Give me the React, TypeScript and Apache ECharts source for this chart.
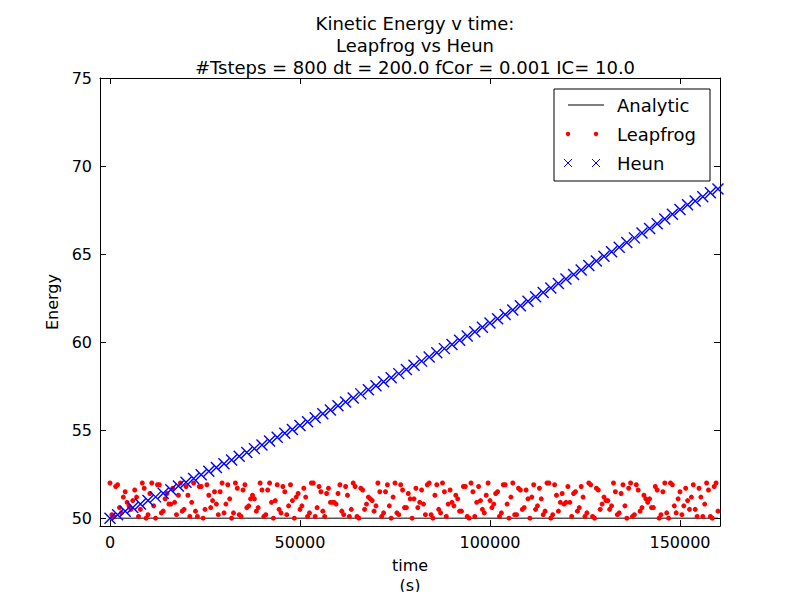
import React, { useEffect, useRef } from 'react';
import * as echarts from 'echarts';

const titleLines = ['Kinetic Energy v time:', 'Leapfrog vs Heun', '#Tsteps = 800 dt = 200.0 fCor = 0.001 IC= 10.0'];
const xTicks = [0, 50000, 100000, 150000];
const yTicks = [50, 55, 60, 65, 70, 75];

// Heun, sampled every 2000 s
const heunStep = 2000;
const heun = [
  50.00, 50.20, 50.40, 50.60, 50.80, 51.01, 51.21, 51.42, 51.62, 51.83,
  52.04, 52.25, 52.46, 52.67, 52.88, 53.09, 53.30, 53.52, 53.73, 53.95,
  54.16, 54.38, 54.60, 54.82, 55.04, 55.26, 55.48, 55.70, 55.93, 56.15,
  56.38, 56.60, 56.83, 57.06, 57.29, 57.52, 57.75, 57.98, 58.21, 58.45,
  58.68, 58.92, 59.15, 59.39, 59.63, 59.87, 60.11, 60.35, 60.59, 60.84,
  61.08, 61.33, 61.57, 61.82, 62.07, 62.32, 62.57, 62.82, 63.07, 63.33,
  63.58, 63.84, 64.09, 64.35, 64.61, 64.87, 65.13, 65.39, 65.66, 65.92,
  66.19, 66.45, 66.72, 66.99, 67.26, 67.53, 67.80, 68.02, 68.25, 68.48,
  68.70,
];

// Leapfrog, sampled every 1000 s (A) and at the half steps in between (B)
const leapStep = 1000;
const leapfrogA = [
  52.0, 50.1, 51.9, 50.3, 51.5, 50.7, 51.0, 51.2, 50.5, 51.7, 50.2, 52.0, 50.0, 51.9, 50.4, 51.4, 50.8, 50.9, 51.3, 50.4,
  51.8, 50.1, 52.0, 50.1, 51.8, 50.5, 51.3, 51.0, 50.8, 51.5, 50.3, 51.9, 50.0, 52.0, 50.2, 51.6, 50.6, 51.1, 51.1, 50.6,
  51.6, 50.2, 52.0, 50.0, 51.9, 50.3, 51.5, 50.7, 51.0, 51.2, 50.5, 51.7, 50.1, 52.0, 50.1, 51.8, 50.4, 51.4, 50.9, 50.9,
  51.4, 50.4, 51.8, 50.1, 52.0, 50.1, 51.7, 50.5, 51.2, 51.0, 50.7, 51.5, 50.3, 51.9, 50.0, 52.0, 50.2, 51.6, 50.6, 51.1,
  51.1, 50.6, 51.6, 50.2, 52.0, 50.0, 51.9, 50.3, 51.5, 50.8, 50.9, 51.3, 50.4, 51.8, 50.1, 52.0, 50.1, 51.8, 50.5, 51.3,
  51.0, 50.8, 51.5, 50.3, 51.9, 50.0, 52.0, 50.2, 51.6, 50.6, 51.1, 51.2, 50.5, 51.7, 50.2, 52.0, 50.0, 51.9, 50.4, 51.4,
  50.9, 50.9, 51.4, 50.4, 51.8, 50.1, 52.0, 50.1, 51.7, 50.5, 51.2, 51.0, 50.7, 51.5, 50.3, 51.9, 50.0, 52.0, 50.2, 51.6,
  50.6, 51.1, 51.1, 50.6, 51.6, 50.2, 52.0, 50.0, 51.9, 50.3, 51.5, 50.7, 51.0, 51.2, 50.5, 51.7, 50.1, 52.0, 50.1, 51.8,
  50.4,
];
const leapfrogB = [
  50.2, 51.8, 50.6, 51.2, 50.9, 50.5, 51.6, 50.1, 52.0, 50.0, 51.4, 50.7, 51.9, 50.3, 51.1, 50.8, 51.7, 50.2, 52.0, 50.5,
  51.3, 50.9, 50.4, 51.8, 50.0, 51.9, 50.6, 51.5, 50.2, 52.0, 50.8, 51.1, 50.3, 51.7, 50.1, 51.9, 50.7, 51.3, 50.4, 52.0,
  50.1, 51.6, 50.9, 51.0, 50.5, 51.8, 50.2, 51.9, 50.0, 51.4, 50.7, 51.2, 50.3, 52.0, 50.6, 51.5, 50.1, 51.7, 50.9, 50.8,
  51.9, 50.2, 51.3, 50.5, 51.8, 50.0, 51.6, 50.8, 51.1, 50.4, 52.0, 50.1, 51.5, 50.7, 51.2, 50.3, 51.9, 50.6, 51.4, 50.0,
  51.7, 50.9, 50.8, 51.9, 50.2, 51.3, 50.5, 52.0, 50.1, 51.6, 50.7, 51.1, 50.4, 51.8, 50.0, 51.5, 50.9, 51.0, 50.3, 52.0,
  50.6, 51.4, 50.1, 51.9, 50.8, 51.2, 50.2, 51.7, 50.5, 51.6, 50.0, 51.9, 50.7, 51.1, 50.4, 52.0, 50.2, 51.3, 50.9, 50.8,
  51.8, 50.1, 51.5, 50.6, 51.2, 50.3, 51.9, 50.0, 51.6, 50.8, 51.0, 50.5, 52.0, 50.2, 51.4, 50.7, 51.7, 50.1, 51.9, 50.4,
  51.3, 50.9, 50.6, 51.8, 50.0, 51.5, 50.3, 52.0, 50.7, 51.1, 50.2, 51.7, 50.5, 51.9, 50.1, 51.2, 50.8, 51.6, 50.0, 52.0,
];

const analytic = [[0, 50], [160000, 50]];

const xMark = 'path://M0,0L10,10M10,0L0,10';
const font = 'DejaVu Sans';

const App = () => {
  const chartRef = useRef<HTMLDivElement>(null);

  useEffect(() => {
    const dom = chartRef.current;
    if (!dom) return;
    const chart = echarts.init(dom, null, { renderer: 'svg' });

    const axisBase = {
      type: 'value' as const,
      splitLine: { show: false },
      axisLine: { show: true, onZero: false, lineStyle: { color: '#000' } },
    };
    const plain = (v: number) => String(v);

    const lx = 554, ly = 89;
    const option = {
      animation: false,
      backgroundColor: '#fff',
      textStyle: { fontFamily: font },
      title: titleLines.map((t, i) => ({
        text: t, left: 410, top: 9 + i * 22, textAlign: 'center',
        textStyle: { fontFamily: font, fontSize: 18, fontWeight: 'normal', color: '#000' },
      })),
      grid: { left: 100, right: 80, top: 78, bottom: 70 },
      xAxis: [
        {
          ...axisBase, min: -2630, max: 160530, position: 'bottom',
          name: 'time\n(s)', nameLocation: 'middle', nameGap: 24,
          nameTextStyle: { fontFamily: font, fontSize: 16, color: '#000', lineHeight: 20 },
          axisTick: { inside: true, length: 6, customValues: xTicks, lineStyle: { color: '#000' } },
          axisLabel: { customValues: xTicks, formatter: plain, fontFamily: font, fontSize: 16, color: '#000', margin: 8 },
        },
        {
          ...axisBase, min: -2630, max: 160530, position: 'top',
          axisTick: { inside: true, length: 6, customValues: xTicks, lineStyle: { color: '#000' } },
          axisLabel: { show: false },
        },
      ],
      yAxis: [
        {
          ...axisBase, min: 49.55, max: 75, position: 'left',
          name: 'Energy', nameLocation: 'middle', nameGap: 34,
          nameTextStyle: { fontFamily: font, fontSize: 16, color: '#000' },
          axisTick: { inside: true, length: 6, customValues: yTicks, lineStyle: { color: '#000' } },
          axisLabel: { customValues: yTicks, formatter: plain, fontFamily: font, fontSize: 16, color: '#000', margin: 8 },
        },
        {
          ...axisBase, min: 49.55, max: 75, position: 'right',
          axisTick: { inside: true, length: 6, customValues: yTicks, lineStyle: { color: '#000' } },
          axisLabel: { show: false },
        },
      ],
      series: [
        {
          name: 'Analytic', type: 'line', data: analytic, symbol: 'none', z: 1,
          lineStyle: { color: '#000', width: 1 },
        },
        {
          name: 'Leapfrog', type: 'scatter', symbol: 'circle', symbolSize: 5,
          itemStyle: { color: '#ff0000', opacity: 1 },
          data: [
            ...leapfrogA.map((v, i) => [i * leapStep, v]),
            ...leapfrogB.map((v, i) => [i * leapStep + leapStep / 2, v]),
          ],
        },
        {
          name: 'Heun', type: 'scatter', symbol: xMark, symbolSize: 11,
          itemStyle: { color: 'transparent', borderColor: '#0000ff', borderWidth: 1.4, opacity: 1 },
          data: heun.map((v, i) => [i * heunStep, v]),
        },
      ],
      graphic: [
        { type: 'rect', shape: { x: lx, y: ly, width: 156, height: 92 }, style: { fill: '#fff', stroke: '#000', lineWidth: 1 }, z: 100 },
        { type: 'line', shape: { x1: lx + 14, y1: ly + 16, x2: lx + 50, y2: ly + 16 }, style: { stroke: '#000', lineWidth: 1 }, z: 101 },
        { type: 'text', x: lx + 63, y: ly + 16, style: { text: 'Analytic', fontFamily: font, fontSize: 18, fill: '#000', textVerticalAlign: 'middle' }, z: 101 },
        { type: 'circle', shape: { cx: lx + 14, cy: ly + 45, r: 2.2 }, style: { fill: '#f00' }, z: 101 },
        { type: 'circle', shape: { cx: lx + 42, cy: ly + 45, r: 2.2 }, style: { fill: '#f00' }, z: 101 },
        { type: 'text', x: lx + 63, y: ly + 45, style: { text: 'Leapfrog', fontFamily: font, fontSize: 18, fill: '#000', textVerticalAlign: 'middle' }, z: 101 },
        ...[lx + 14, lx + 42].map((cx) => ({
          type: 'group', z: 101,
          children: [
            { type: 'line', shape: { x1: cx - 4, y1: ly + 70, x2: cx + 4, y2: ly + 78 }, style: { stroke: '#00f', lineWidth: 1 }, z: 101 },
            { type: 'line', shape: { x1: cx + 4, y1: ly + 70, x2: cx - 4, y2: ly + 78 }, style: { stroke: '#00f', lineWidth: 1 }, z: 101 },
          ],
        })),
        { type: 'text', x: lx + 63, y: ly + 74, style: { text: 'Heun', fontFamily: font, fontSize: 18, fill: '#000', textVerticalAlign: 'middle' }, z: 101 },
      ],
    };

    chart.setOption(option as any);
    return () => {
      chart.dispose();
    };
  }, []);

  return <div ref={chartRef} style={{ width: '800px', height: '600px', margin: '-8px' }}></div>;
};

export default App;
